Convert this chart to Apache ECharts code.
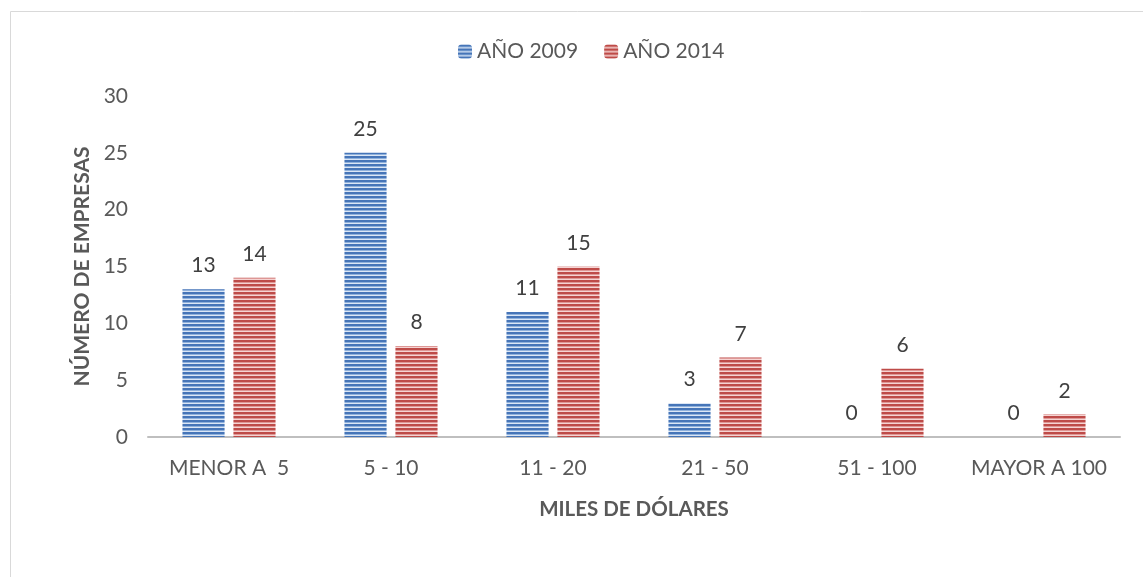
<!DOCTYPE html>
<html>
<head>
<meta charset="utf-8">
<script src="https://cdn.jsdelivr.net/npm/echarts@6/dist/echarts.min.js"></script>
<style>
  html, body { margin: 0; padding: 0; background: #fff; }
  #chart { width: 1143px; height: 577px; }
</style>
</head>
<body>
<div id="chart"></div>
<script>
// datos
const categorias = ['MENOR A  5', '5 - 10', '11 - 20', '21 - 50', '51 - 100', 'MAYOR A 100'];
const anio2009 = [13, 25, 11, 3, 0, 0];
const anio2014 = [14, 8, 15, 7, 6, 2];
const ticksY = [0, 5, 10, 15, 20, 25, 30];

// rayas horizontales como en el original
function rayas(oscuro, claro, medio) {
  const c = document.createElement('canvas');
  c.width = 4;
  c.height = 4;
  const ctx = c.getContext('2d');
  ctx.fillStyle = oscuro; ctx.fillRect(0, 0, 4, 2);
  ctx.fillStyle = medio; ctx.fillRect(0, 2, 4, 1);
  ctx.fillStyle = claro; ctx.fillRect(0, 3, 4, 1);
  return { image: c, repeat: 'repeat' };
}

const azul = rayas('#4675b8', '#dbe6f5', '#8fb1dc');
const rojo = rayas('#be4b48', '#f5d3d2', '#de9795');

const fuente = 'Lato, "Open Sans", sans-serif';
const myChart = echarts.init(document.getElementById('chart'));

const etiqueta = {
  show: true,
  position: 'top',
  distance: 13,
  color: '#404040',
  fontSize: 21,
  fontFamily: fuente
};

myChart.setOption({
  animation: false,
  graphic: [{
    type: 'rect',
    shape: { x: 10.5, y: 11.5, width: 1200, height: 700 },
    style: { fill: 'none', stroke: '#d9d9d9', lineWidth: 1 },
    silent: true
  }],
  legend: {
    top: 36,
    left: 453,
    itemWidth: 14,
    itemHeight: 14,
    itemGap: 26,
    textStyle: { color: '#595959', fontSize: 21, fontFamily: fuente },
    data: ['AÑO 2009', 'AÑO 2014']
  },
  grid: { left: 148, right: 23, top: 96, bottom: 140 },
  xAxis: {
    type: 'category',
    data: categorias,
    name: 'MILES DE DÓLARES',
    nameLocation: 'middle',
    nameGap: 62,
    nameTextStyle: { color: '#595959', fontSize: 20.5, fontWeight: 'bold', fontFamily: fuente },
    axisLine: { lineStyle: { color: '#bfbfbf', width: 2 } },
    axisTick: { show: false },
    axisLabel: { color: '#595959', fontSize: 21, margin: 21, interval: 0, fontFamily: fuente }
  },
  yAxis: {
    type: 'value',
    min: ticksY[0],
    max: ticksY[ticksY.length - 1],
    interval: 5,
    name: 'NÚMERO DE EMPRESAS',
    nameLocation: 'middle',
    nameGap: 50,
    nameTextStyle: { color: '#595959', fontSize: 21, fontWeight: 'bold', fontFamily: fuente },
    axisLine: { show: false },
    axisTick: { show: false },
    splitLine: { show: false },
    axisLabel: { color: '#595959', fontSize: 21, margin: 20, fontFamily: fuente }
  },
  series: [
    {
      name: 'AÑO 2009',
      type: 'bar',
      data: anio2009,
      barWidth: '26%',
      barGap: '21%',
      itemStyle: { color: azul },
      label: etiqueta
    },
    {
      name: 'AÑO 2014',
      type: 'bar',
      data: anio2014,
      barWidth: '26%',
      itemStyle: { color: rojo },
      label: etiqueta
    }
  ]
});
</script>
</body>
</html>
